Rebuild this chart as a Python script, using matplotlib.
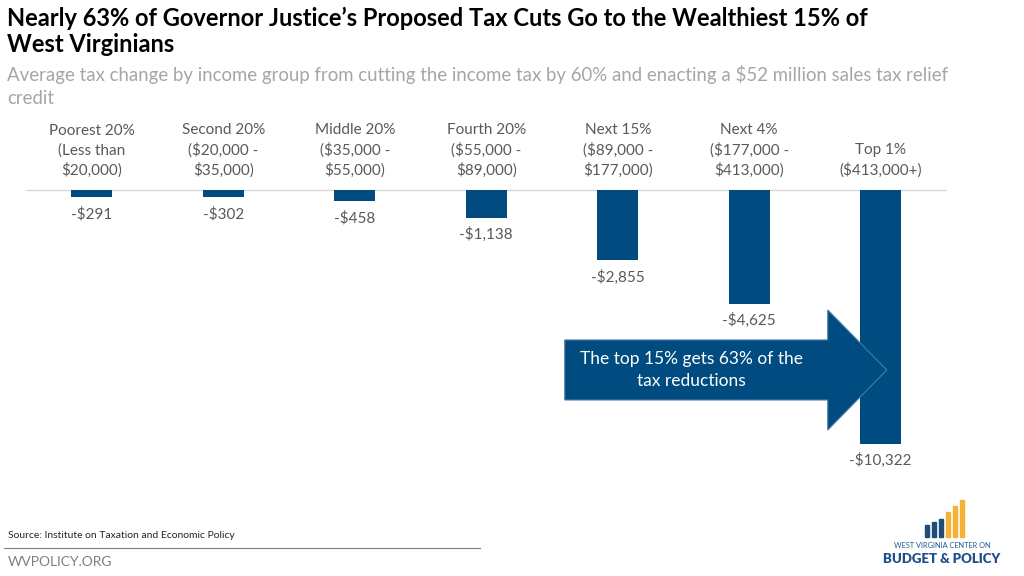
import matplotlib
import matplotlib.pyplot as plt
from matplotlib.patches import FancyArrow, Rectangle

matplotlib.use("agg")

groups = ["Poorest 20%\n(Less than\n$20,000)", "Second 20%\n($20,000 -\n$35,000)",
          "Middle 20%\n($35,000 -\n$55,000)", "Fourth 20%\n($55,000 -\n$89,000)",
          "Next 15%\n($89,000 -\n$177,000)", "Next 4%\n($177,000 -\n$413,000)",
          "Top 1%\n($413,000+)"]
tax_change = [-291, -302, -458, -1138, -2855, -4625, -10322]

BLUE = "#004c80"
GRAY = "#595959"
plt.rcParams["font.family"] = ["Lato", "DejaVu Sans"]

fig = plt.figure(figsize=(10.24, 5.76), dpi=100)
W, H = 1024, 576
# axes: x px 26..946.5, y px 120..480
ax = fig.add_axes([26 / W, 1 - 480 / H, 920.5 / W, 360 / H])
ax.set_xlim(-0.5, 6.5)
ax.set_ylim(-11785, 2844)
ax.axis("off")

x = list(range(len(groups)))
ax.bar(x, tax_change, width=0.31, color=BLUE, zorder=2)
ax.axhline(0, color="#d9d9d9", lw=1, zorder=1)

for xi, g, v in zip(x, groups, tax_change):
    ax.annotate(g, (xi, 0), xytext=(0, 9), textcoords="offset points",
                ha="center", va="bottom", fontsize=11, color=GRAY, linespacing=1.4)
    ax.annotate("-${:,}".format(-v), (xi, v), xytext=(0, -12), textcoords="offset points",
                ha="center", va="center", fontsize=11, color=GRAY)

arrow = FancyArrow(3.597, -7314, 2.449, 0, width=2438, head_width=4876, head_length=0.449,
                   length_includes_head=True, facecolor=BLUE, edgecolor="#4a7aa8",
                   lw=0.8, zorder=3)
ax.add_patch(arrow)
ax.text(4.563, -7300, "The top 15% gets 63% of the\ntax reductions", ha="center", va="center",
        color="white", fontsize=12.5, linespacing=1.45, zorder=4)

fig.text(7 / W, 1 - 18 / H, "Nearly 63% of Governor Justice\u2019s Proposed Tax Cuts Go to the Wealthiest 15% of",
         fontsize=17, fontweight="bold", va="center", ha="left", color="black")
fig.text(7 / W, 1 - 45 / H, "West Virginians", fontsize=17, fontweight="bold",
         va="center", ha="left", color="black")
fig.text(7 / W, 1 - 75 / H,
         "Average tax change by income group from cutting the income tax by 60% and enacting a $52 million sales tax relief",
         fontsize=13.4, va="center", ha="left", color="#a6a6a6")
fig.text(7 / W, 1 - 98 / H, "credit", fontsize=13.4, va="center", ha="left", color="#a6a6a6")

fig.text(8 / W, 1 - 536 / H, "Source: Institute on Taxation and Economic Policy",
         fontsize=7.5, va="center", ha="left", color="#262626")
fig.add_artist(plt.Line2D([4 / W, 480 / W], [1 - 548 / H, 1 - 548 / H], color="#7f7f7f", lw=0.8))
fig.text(8 / W, 1 - 562 / H, "WVPOLICY.ORG", fontsize=10, va="center", ha="left", color="#7f7f7f")

# logo
logo_x = [925, 932, 939, 946, 953, 960]
logo_h = [12, 15, 18, 25, 31, 37]
logo_c = ["#1f4e79", "#1f4e79", "#1f4e79", "#f5b335", "#f5b335", "#f5b335"]
for lx, lh, lc in zip(logo_x, logo_h, logo_c):
    fig.add_artist(Rectangle((lx / W, 1 - 537 / H), 4 / W, lh / H, color=lc))
fig.text(942 / W, 1 - 546 / H, "WEST VIRGINIA CENTER ON", fontsize=5.3, ha="center",
         va="center", color="#1f5a96")
fig.text(942 / W, 1 - 559 / H, "BUDGET & POLICY", fontsize=9.5, fontweight="heavy",
         ha="center", va="center", color="#1f4e8c")

fig.savefig("out.png", dpi=100)
